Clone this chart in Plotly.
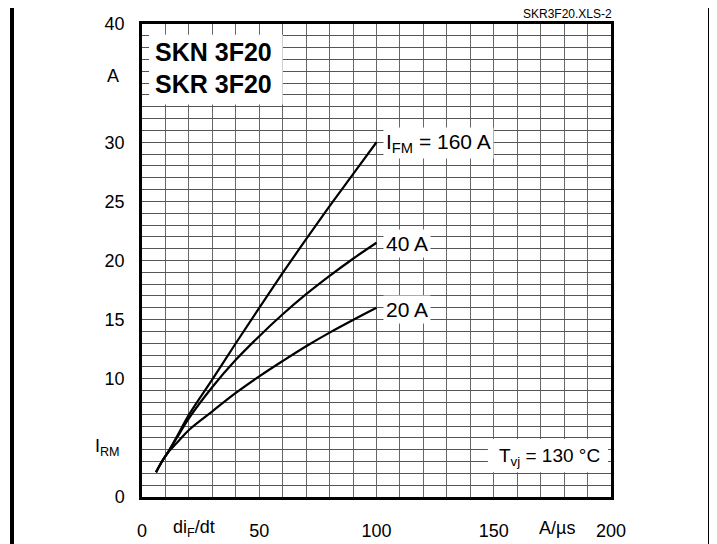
import plotly.graph_objects as go

# ---- data ----
didt = [6, 8.5, 11, 15, 20, 30, 40, 50, 60, 70, 80, 90, 100]
irm_160A = [2.1, 3.0, 3.75, 5.15, 6.95, 9.95, 13.0, 16.0, 18.95, 21.8, 24.6, 27.3, 30.0]
irm_40A = [2.1, 3.0, 3.75, 5.05, 6.65, 9.3, 11.6, 13.6, 15.45, 17.15, 18.7, 20.15, 21.5]
irm_20A = [2.1, 3.0, 3.75, 4.6, 5.67, 7.25, 8.8, 10.2, 11.5, 12.75, 13.9, 14.97, 16.0]

x_tickvals = [0, 50, 100, 150, 200]
x_ticktext = ["0", "50", "100", "150", "200"]
y_tickvals = [0, 10, 15, 20, 25, 30, 40]
y_ticktext = ["0", "10", "15", "20", "25", "30", "40"]

curve_labels = ["I<sub>FM</sub> = 160 A", "40 A", "20 A"]
label_y = [29.9, 21.4, 15.85]

FONT = "Liberation Sans, Arial, Helvetica, sans-serif"

# page body has an 8 px margin: figure coordinates = reference pixels - 8
OFF = 8
FW, FH = 717 - OFF, 544 - OFF
L, W, T, H = 142 - OFF, 469, 24 - OFF, 473


def px(v):
    return (v - OFF - L) / W


def py(v):
    return (T + H - (v - OFF)) / H


fig = go.Figure()
for ys in (irm_160A, irm_40A, irm_20A):
    fig.add_trace(go.Scatter(x=didt, y=ys, mode="lines",
                             line=dict(color="black", width=2.2, shape="spline", smoothing=1.0),
                             showlegend=False, hoverinfo="skip"))

# white boxes covering the grid
fig.add_shape(type="rect", x0=3, x1=60, y0=33.2, y1=39.1, xref="x", yref="y",
              fillcolor="white", line_width=0, layer="between")
fig.add_shape(type="rect", x0=147.5, x1=198.7, y0=2.1, y1=4.9, xref="x", yref="y",
              fillcolor="white", line_width=0, layer="between")

# outer frame (cut at the bottom)
fig.add_shape(type="path", xref="paper", yref="paper",
              path=f"M {px(12)},{py(600)} L {px(12)},{py(5.5)} L {px(710)},{py(5.5)} L {px(710)},{py(600)}",
              line=dict(color="black", width=4))

ann = []
ann.append(dict(x=4.8, y=37.66, text="<b>SKN 3F20</b>", xanchor="left", yanchor="middle",
                font=dict(size=25, color="black", family=FONT), showarrow=False))
ann.append(dict(x=4.8, y=34.9, text="<b>SKR 3F20</b>", xanchor="left", yanchor="middle",
                font=dict(size=25, color="black", family=FONT), showarrow=False))
for t, yv in zip(curve_labels, label_y):
    ann.append(dict(x=102.8, y=yv, text=t, xanchor="left", yanchor="middle", bgcolor="white",
                    borderpad=2, font=dict(size=21, color="black", family=FONT), showarrow=False))
ann.append(dict(x=173.6, y=3.4, text="T<sub>vj</sub> = 130 °C", xanchor="center", yanchor="middle",
                font=dict(size=19, color="black", family=FONT), showarrow=False))
ann.append(dict(x=px(567), y=py(14), xref="paper", yref="paper", text="SKR3F20.XLS-2",
                xanchor="center", yanchor="middle", font=dict(size=12, color="black", family=FONT),
                showarrow=False))
ann.append(dict(x=px(107), y=py(447), xref="paper", yref="paper", text="I<sub>RM</sub>",
                xanchor="center", yanchor="middle", font=dict(size=18, color="black", family=FONT),
                showarrow=False))
ann.append(dict(x=px(113), y=py(76), xref="paper", yref="paper", text="A",
                xanchor="center", yanchor="middle", font=dict(size=18, color="black", family=FONT),
                showarrow=False))
ann.append(dict(x=px(194), y=py(528), xref="paper", yref="paper", text="di<sub>F</sub>/dt",
                xanchor="center", yanchor="middle", font=dict(size=18, color="black", family=FONT),
                showarrow=False))
ann.append(dict(x=px(557), y=py(528), xref="paper", yref="paper", text="A/µs",
                xanchor="center", yanchor="middle", font=dict(size=18, color="black", family=FONT),
                showarrow=False))

fig.update_layout(
    width=FW, height=FH,
    margin=dict(l=L, r=FW - L - W, t=T, b=FH - T - H, autoexpand=False),
    paper_bgcolor="white", plot_bgcolor="white",
    annotations=ann,
    font=dict(family=FONT, color="black", size=18),
    xaxis=dict(range=[0, 200], tickvals=x_tickvals, ticktext=x_ticktext, automargin=False,
               showgrid=True, gridcolor="#666", gridwidth=1.2,
               minor=dict(dtick=10, tick0=0, showgrid=True, gridcolor="#666", gridwidth=1.2),
               showline=True, linecolor="black", linewidth=2.5, mirror=True,
               zeroline=False, ticks="", ticklabelstandoff=16,
               tickfont=dict(size=18, family=FONT, color="black"), fixedrange=True),
    yaxis=dict(range=[0, 40], tickvals=y_tickvals, ticktext=y_ticktext, automargin=False,
               showgrid=True, gridcolor="#555", gridwidth=1,
               minor=dict(dtick=1, tick0=0, showgrid=True, gridcolor="#555", gridwidth=1),
               showline=True, linecolor="black", linewidth=2.5, mirror=True,
               zeroline=False, ticks="", ticklabelstandoff=11,
               tickfont=dict(size=18, family=FONT, color="black"), fixedrange=True),
)

fig.write_html("out.html")
